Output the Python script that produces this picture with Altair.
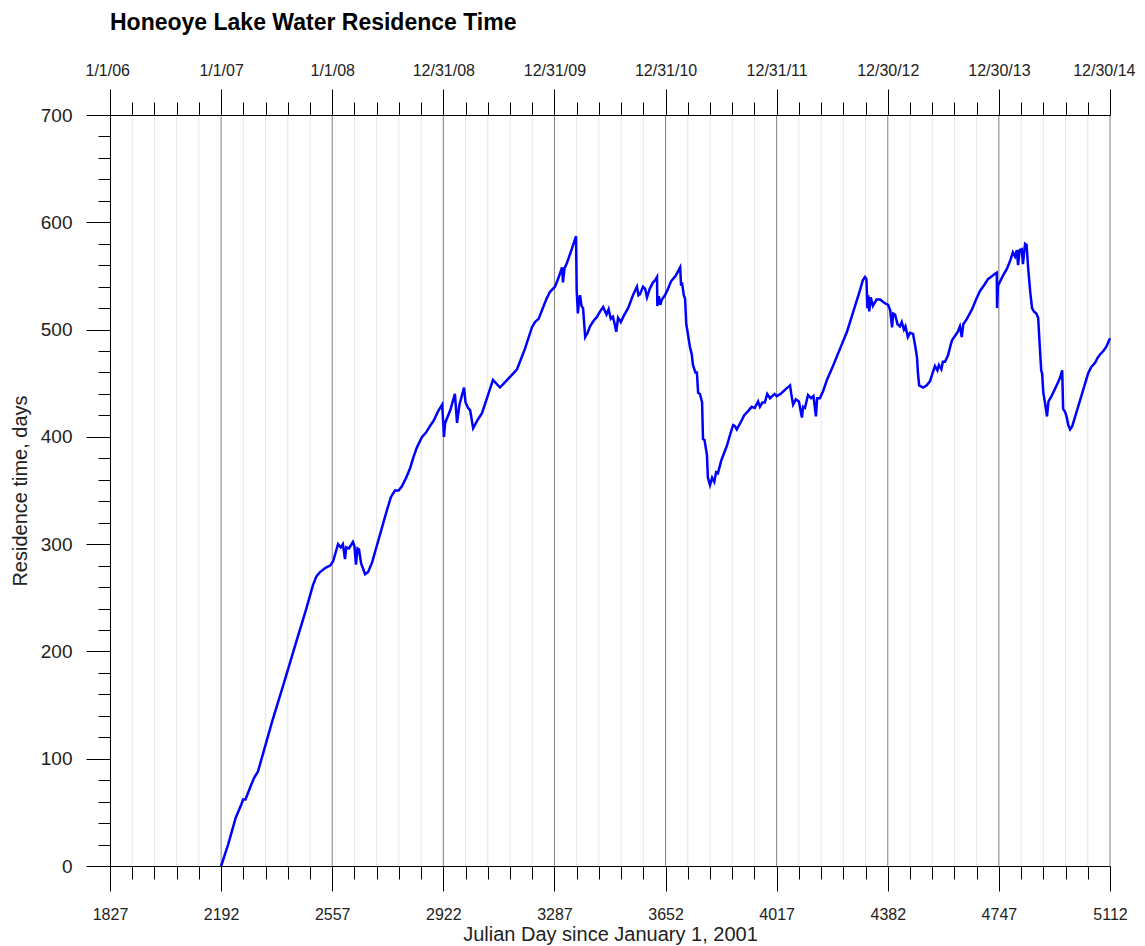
import altair as alt
import pandas as pd

FONT = "Liberation Sans"

# --- data ---
days = [2192, 2215, 2240, 2258, 2264, 2272, 2290, 2300, 2313, 2330, 2360, 2400, 2440, 2470, 2494,
        2505, 2517, 2535, 2550, 2560, 2568, 2576, 2585, 2592, 2599, 2603, 2612, 2625, 2630, 2635,
        2640, 2645, 2652, 2665, 2675, 2688, 2710, 2737, 2750, 2763, 2775, 2786, 2800, 2813, 2825,
        2835, 2852, 2865, 2878, 2890, 2905, 2918, 2922, 2924, 2928, 2945, 2960, 2964, 2967, 2975,
        2990, 2995, 3003, 3010, 3020, 3035, 3049, 3070, 3085, 3095, 3108, 3125, 3148, 3164, 3190,
        3213, 3223, 3235, 3246, 3260, 3272, 3289, 3300, 3312, 3315, 3320, 3328, 3345, 3358, 3360,
        3364, 3368, 3371, 3376, 3381, 3388, 3396, 3404, 3415, 3427, 3437, 3447, 3458, 3465, 3472,
        3479, 3485, 3490, 3496, 3505, 3515, 3529, 3545, 3558, 3563, 3568, 3578, 3585, 3591, 3600,
        3611, 3618, 3624, 3625, 3630, 3635, 3640, 3650, 3657, 3670, 3685, 3700, 3703, 3706, 3712,
        3716, 3720, 3723, 3732, 3738, 3742, 3750, 3755, 3759, 3765, 3772, 3775, 3780, 3788, 3791,
        3795, 3798, 3805, 3812, 3818, 3824, 3835, 3854, 3865, 3874, 3880, 3886, 3896, 3910, 3923,
        3935, 3945, 3956, 3962, 3970, 3978, 3986, 3995, 4010, 4017, 4030, 4045, 4061, 4065, 4071,
        4080, 4090, 4100, 4104, 4110, 4120, 4130, 4138, 4146, 4150, 4159, 4170, 4182, 4202, 4225,
        4248, 4270, 4291, 4300, 4307, 4312, 4315, 4318, 4321, 4326, 4333, 4345, 4357, 4370, 4383,
        4390, 4396, 4400, 4406, 4414, 4422, 4428, 4435, 4440, 4448, 4455, 4465, 4472, 4478, 4481,
        4485, 4498, 4510, 4521, 4530, 4537, 4545, 4550, 4558, 4563, 4570, 4580, 4588, 4593, 4605,
        4612, 4619, 4625, 4630, 4642, 4659, 4672, 4685, 4700, 4711, 4725, 4734, 4740, 4741, 4744,
        4760, 4774, 4785, 4793, 4800, 4806, 4810, 4815, 4822, 4826, 4833, 4838, 4843, 4850, 4856,
        4862, 4870, 4876, 4882, 4886, 4889, 4893, 4899, 4905, 4910, 4920, 4935, 4948, 4955, 4958,
        4965, 4970, 4975, 4981, 4988, 5004, 5020, 5040, 5050, 5063, 5072, 5080, 5090, 5100, 5112]
vals = [0, 20, 45, 57, 62, 62, 75, 82, 88, 105, 135, 172, 210, 238, 262,
        270, 274, 278, 280, 284, 292, 300, 297, 300, 286, 297, 296, 302, 298, 281,
        296, 295, 282, 272, 274, 283, 305, 332, 344, 350, 350, 354, 362, 371, 382,
        390, 400, 404, 410, 415, 424, 430, 412, 400, 413, 425, 440, 425, 413, 430,
        446, 432, 427, 425, 408, 416, 422, 440, 453, 450, 446, 451, 458, 463, 482,
        502, 507, 510, 518, 528, 535, 540, 548, 558, 544, 557, 562, 576, 587, 537,
        515, 528, 532, 522, 520, 493, 497, 503, 508, 512, 517, 521, 514, 519, 510,
        512, 505, 498, 511, 507, 513, 520, 532, 540, 532, 533, 540, 538, 530, 538,
        544, 546, 549, 522, 531, 523, 528, 532, 536, 545, 550, 558, 541, 544, 532,
        529, 505, 500, 484, 477, 467, 460, 460, 441, 440, 432, 398, 397, 383, 362,
        358, 355, 362, 358, 367, 366, 378, 392, 403, 411, 410, 407, 412, 420, 424,
        428, 427, 433, 428, 432, 432, 440, 436, 440, 438, 440, 444, 448, 440, 430,
        435, 433, 418, 428, 427, 439, 436, 438, 419, 436, 436, 443, 453, 466, 482,
        498, 518, 537, 546, 549, 547, 520, 532, 517, 530, 522, 528, 528, 525, 523,
        518, 502, 515, 514, 505, 503, 507, 500, 503, 493, 497, 496, 485, 474, 460,
        448, 446, 448, 452, 460, 466, 462, 467, 463, 470, 470, 476, 485, 490, 495,
        498, 503, 493, 505, 510, 519, 528, 536, 542, 547, 550, 552, 553, 520, 541,
        550, 557, 565, 572, 568, 574, 560, 574, 575, 561, 580, 579, 558, 535, 520,
        517, 515, 511, 481, 462, 459, 441, 431, 419, 433, 438, 447, 455, 462, 426,
        423, 418, 411, 407, 410, 425, 440, 459, 465, 469, 474, 477, 480, 484, 492]

major_days = [1827, 2192, 2557, 2922, 3287, 3652, 4017, 4382, 4747, 5112]
top_labels = ["1/1/06", "1/1/07", "1/1/08", "12/31/08", "12/31/09",
              "12/31/10", "12/31/11", "12/30/12", "12/30/13", "12/30/14"]
minor_days = [1827 + 73 * k for k in range(1, 45) if k % 5 != 0]
major_y = [0, 100, 200, 300, 400, 500, 600, 700]
minor_y = [v for v in range(20, 700, 20) if v % 100 != 0]

df = pd.DataFrame({"day": days, "val": vals})

xscale = alt.Scale(domain=[1827, 5112], nice=False, zero=False)
yscale = alt.Scale(domain=[0, 700], nice=False, zero=True)

label_arr = "[" + ",".join("'%s'" % s for s in top_labels) + "]"
top_expr = label_arr + "[round((datum.value - 1827) / 365)]"

common = dict(tickColor="black", tickWidth=1, grid=False, zindex=1, labelOverlap=False)

minor_grid = alt.Chart(pd.DataFrame({"d": minor_days})).mark_rule(
    color="#e6e6e6", strokeWidth=1
).encode(
    x=alt.X("d:Q", scale=xscale,
            axis=alt.Axis(orient="bottom", values=minor_days, tickSize=13,
                          labels=False, domain=False, title=None, **common))
)

major_grid = alt.Chart(pd.DataFrame({"d": major_days[1:]})).mark_rule(
    color="#808080", strokeWidth=1
).encode(
    x=alt.X("d:Q", scale=xscale,
            axis=alt.Axis(orient="top", values=major_days, tickSize=26,
                          labelExpr=top_expr, labelFont=FONT, labelFontSize=16,
                          labelColor="#222222", labelPadding=11,
                          labelFlush=True, labelFlushOffset=25,
                          domain=True, domainColor="black", domainWidth=1,
                          title=None, **common))
)

line = alt.Chart(df).mark_line(color="#0000ff", strokeWidth=2.5).encode(
    x=alt.X("day:Q", scale=xscale,
            axis=alt.Axis(orient="bottom", values=major_days, tickSize=25, format="d",
                          labelFont=FONT, labelFontSize=16, labelColor="#222222",
                          labelPadding=15, labelFlush=False,
                          domain=True, domainColor="black", domainWidth=1,
                          title="Julian Day since January 1, 2001", titleFont=FONT,
                          titleFontSize=20, titleFontWeight="normal", titleColor="#222222",
                          titlePadding=2, **common)),
    y=alt.Y("val:Q", scale=yscale,
            axis=alt.Axis(orient="left", values=major_y, tickSize=24, format="d",
                          labelFont=FONT, labelFontSize=19, labelColor="#222222",
                          labelPadding=14, labelFlush=False,
                          domain=True, domainColor="black", domainWidth=1,
                          title="Residence time, days", titleFont=FONT, titleFontSize=20,
                          titleFontWeight="normal", titleColor="#222222", titlePadding=10,
                          **common)),
)

minor_axes = alt.Chart(df).mark_line(strokeOpacity=0).encode(
    x=alt.X("day:Q", scale=xscale,
            axis=alt.Axis(orient="top", values=minor_days, tickSize=13, labels=False,
                          domain=False, title=None, **common)),
    y=alt.Y("val:Q", scale=yscale,
            axis=alt.Axis(orient="left", values=minor_y, tickSize=12, labels=False,
                          domain=False, title=None, **common)),
)

chart = alt.layer(minor_grid, major_grid, line, minor_axes).resolve_scale(
    x="shared", y="shared"
).resolve_axis(
    x="independent", y="independent"
).properties(
    width=1000,
    height=751,
    title=alt.TitleParams("Honeoye Lake Water Residence Time", anchor="start", frame="group",
                          font=FONT, fontSize=23, fontWeight="bold", color="black", offset=27),
    autosize=alt.AutoSizeParams(type="none"),
    padding={"left": 102, "top": 107, "right": 27, "bottom": 80},
    background="white",
).configure_view(stroke=None)

chart.save("out.html", embed_options={"renderer": "svg", "actions": False})
